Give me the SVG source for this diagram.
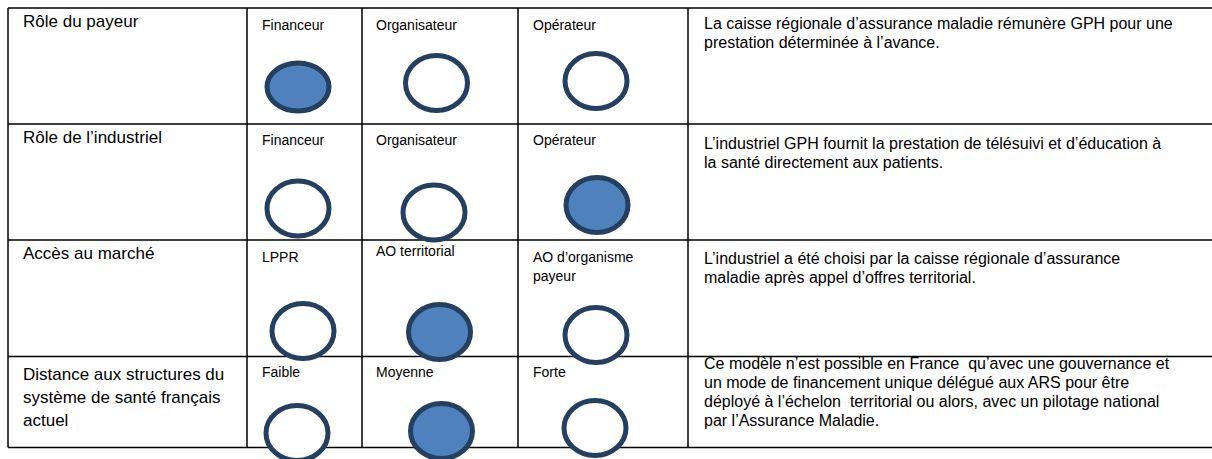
<svg xmlns="http://www.w3.org/2000/svg" width="1212" height="459" viewBox="0 0 1212 459">
<style>
.grid{stroke:#000;stroke-width:1.5;fill:none}
.lbl{font-family:"Liberation Sans",Arial,sans-serif;font-size:17px;fill:#000}
.txt{font-family:"Liberation Sans",Arial,sans-serif;font-size:16px;fill:#000}
.opt{font-family:"Liberation Sans",Arial,sans-serif;font-size:14px;fill:#000}
.on{fill:#4F81BD;stroke:#243F60;stroke-width:5}
.off{fill:#fff;stroke:#243F60;stroke-width:5}
</style>
<rect width="1212" height="459" fill="#fff"/>
<g id="grid">
<path class="grid" d="M8,8H1212M8,124H1212M8,240H1212M8,356.5H1212M8,447.5H1212M8,8V447.5M247,8V447.5M362,8V447.5M518,8V447.5M688,8V447.5"/>
</g>
<g id="row1">
<text class="lbl" x="23" y="27">Rôle du payeur</text>
<text class="opt" x="262" y="30">Financeur</text>
<text class="opt" x="376" y="29.5">Organisateur</text>
<text class="opt" x="533" y="29.5">Opérateur</text>
<text class="txt" x="704" y="29">La caisse régionale d’assurance maladie rémunère GPH pour une</text>
<text class="txt" x="704" y="48">prestation déterminée à l’avance.</text>
</g>
<g id="row2">
<text class="lbl" x="23" y="143">Rôle de l’industriel</text>
<text class="opt" x="262" y="145">Financeur</text>
<text class="opt" x="376" y="145">Organisateur</text>
<text class="opt" x="533" y="145">Opérateur</text>
<text class="txt" x="704" y="148.5">L’industriel GPH fournit la prestation de télésuivi et d’éducation à</text>
<text class="txt" x="704" y="167.5">la santé directement aux patients.</text>
</g>
<g id="row3">
<text class="lbl" x="23" y="259">Accès au marché</text>
<text class="opt" x="262" y="261.5">LPPR</text>
<text class="opt" x="376" y="255.5">AO territorial</text>
<text class="opt" x="533" y="262">AO d’organisme</text>
<text class="opt" x="533" y="280.5">payeur</text>
<text class="txt" x="704" y="264">L’industriel a été choisi par la caisse régionale d’assurance</text>
<text class="txt" x="704" y="283">maladie après appel d’offres territorial.</text>
</g>
<g id="row4">
<text class="lbl" x="23" y="380">Distance aux structures du</text>
<text class="lbl" x="23" y="403">système de santé français</text>
<text class="lbl" x="23" y="426">actuel</text>
<text class="opt" x="262" y="377">Faible</text>
<text class="opt" x="376" y="377">Moyenne</text>
<text class="opt" x="533" y="377">Forte</text>
<text class="txt" x="704" y="369" xml:space="preserve" style="white-space:pre">Ce modèle n’est possible en France  qu’avec une gouvernance et</text>
<text class="txt" x="704" y="388">un mode de financement unique délégué aux ARS pour être</text>
<text class="txt" x="704" y="407" xml:space="preserve" style="white-space:pre">déployé à l’échelon  territorial ou alors, avec un pilotage national</text>
<text class="txt" x="704" y="426">par l’Assurance Maladie.</text>
</g>
<g id="markers">
<ellipse id="r1-financeur" class="on" cx="298" cy="87" rx="31" ry="24"/>
<ellipse id="r1-organisateur" class="off" cx="436.5" cy="83" rx="31" ry="27.5"/>
<ellipse id="r1-operateur" class="off" cx="596" cy="81" rx="31" ry="27.5"/>
<ellipse id="r2-financeur" class="off" cx="298" cy="208.5" rx="31" ry="27.5"/>
<ellipse id="r2-organisateur" class="off" cx="434" cy="212.5" rx="31" ry="27.5"/>
<ellipse id="r2-operateur" class="on" cx="597" cy="205" rx="31" ry="27.5"/>
<ellipse id="r3-lppr" class="off" cx="303" cy="331" rx="31" ry="27.5"/>
<ellipse id="r3-ao-territorial" class="on" cx="439.5" cy="332" rx="31" ry="27.5"/>
<ellipse id="r3-ao-organisme" class="off" cx="596" cy="335" rx="31" ry="27.5"/>
<ellipse id="r4-faible" class="off" cx="297" cy="433" rx="31" ry="27.5"/>
<ellipse id="r4-moyenne" class="on" cx="441.5" cy="431" rx="31" ry="27.5"/>
<ellipse id="r4-forte" class="off" cx="595" cy="428" rx="31" ry="27.5"/>
</g>
</svg>
